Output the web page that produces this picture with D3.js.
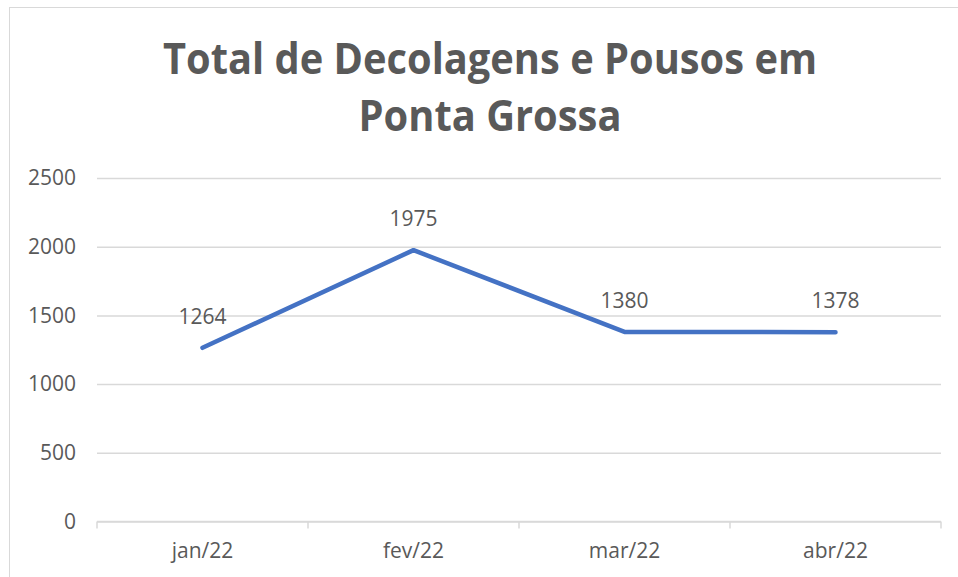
<!DOCTYPE html>
<html>
<head>
<meta charset="utf-8">
<script src="https://cdn.jsdelivr.net/npm/d3@7"></script>
<style>
  body { margin: 0; background: #fff; }
  text { font-family: 'Open Sans', sans-serif; fill: #595959; }
</style>
</head>
<body>
<script>
// data
const months = ['jan/22', 'fev/22', 'mar/22', 'abr/22']
const totals = [1264, 1975, 1380, 1378]
const yTicks = [0, 500, 1000, 1500, 2000, 2500]
const titleLines = ['Total de Decolagens e Pousos em', 'Ponta Grossa']

const width = 958, height = 577
const plot = { left: 97, right: 941, top: 178, bottom: 521.5 }

const svg = d3.select('body').append('svg')
    .attr('width', width)
    .attr('height', height)

// chart frame
svg.append('rect')
    .attr('x', 9.5).attr('y', 7.5)
    .attr('width', 1000).attr('height', 1000)
    .attr('fill', 'none')
    .attr('stroke', '#d9d9d9')

// title (squeezed to the width of the original Calibri text)
let title = svg.append('g')
let widths = [654, 263]
let baselines = [74, 131]
titleLines.forEach((t, i) => {
    title.append('text')
        .attr('x', 490)
        .attr('y', baselines[i])
        .attr('text-anchor', 'middle')
        .style('font-size', '43px')
        .style('font-weight', 700)
        .attr('textLength', widths[i])
        .attr('lengthAdjust', 'spacingAndGlyphs')
        .text(t)
})

let x = d3.scaleBand()
    .domain(months)
    .range([plot.left, plot.right])

let y = d3.scaleLinear()
    .domain([0, 2500])
    .range([plot.bottom, plot.top])

// gridlines + y labels
let yAxis = svg.append('g')
    .attr('transform', `translate(${plot.left},0)`)
    .call(d3.axisLeft(y)
        .tickValues(yTicks)
        .tickSize(-(plot.right - plot.left))
        .tickPadding(21)
        .tickFormat(d3.format('d')))
yAxis.select('.domain').remove()
yAxis.selectAll('.tick line')
    .attr('stroke', '#d9d9d9')
    .attr('stroke-width', 1.5)
yAxis.selectAll('.tick text')
    .style('font-size', '21px')
    .style('fill', '#595959')

// x axis
let xAxis = svg.append('g')
    .attr('transform', `translate(0,${plot.bottom})`)
    .call(d3.axisBottom(x).tickSize(0).tickPadding(22))
xAxis.select('.domain')
    .attr('stroke', '#d9d9d9')
    .attr('stroke-width', 1.5)
    .attr('d', `M${plot.left},0H${plot.right}`)
xAxis.selectAll('.tick text')
    .style('font-size', '21px')
    .style('fill', '#595959')
    .attr('dy', '0.71em')

// tick marks between categories
let bounds = [plot.left].concat(months.map(m => x(m) + x.bandwidth()))
svg.append('g')
    .selectAll('line')
    .data(bounds)
    .join('line')
    .attr('x1', d => d).attr('x2', d => d)
    .attr('y1', plot.bottom).attr('y2', plot.bottom + 7)
    .attr('stroke', '#d9d9d9')
    .attr('stroke-width', 1.5)

let cx = d => x(d) + x.bandwidth() / 2
let pts = months.map((m, i) => [cx(m), y(totals[i])])

svg.append('path')
    .attr('d', d3.line()(pts))
    .attr('fill', 'none')
    .attr('stroke', '#4472c4')
    .attr('stroke-width', 4.5)
    .attr('stroke-linecap', 'round')
    .attr('stroke-linejoin', 'round')

// data labels
svg.append('g')
    .selectAll('text')
    .data(months)
    .join('text')
    .attr('x', d => cx(d))
    .attr('y', (d, i) => y(totals[i]) - 24)
    .attr('text-anchor', 'middle')
    .style('font-size', '21px')
    .text((d, i) => totals[i])
</script>
</body>
</html>
